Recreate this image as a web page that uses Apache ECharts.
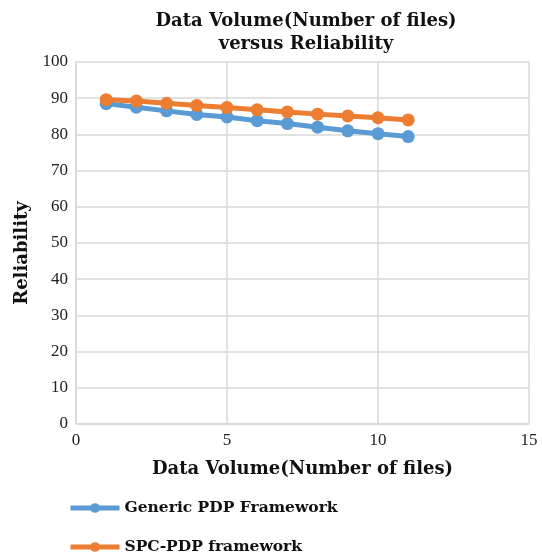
<!DOCTYPE html>
<html><head><meta charset="utf-8">
<script src="https://cdn.jsdelivr.net/npm/echarts@6/dist/echarts.min.js"></script>
<style>html,body{margin:0;padding:0;background:#fff}#c{width:542px;height:559px}</style>
</head><body><div id="c"></div>
<script>
var xValues = [1,2,3,4,5,6,7,8,9,10,11];
var genericPDP = [88.5,87.5,86.5,85.5,84.8,83.8,83.0,82.0,81.0,80.2,79.4];
var spcPDP = [89.6,89.2,88.6,88.0,87.4,86.8,86.2,85.6,85.1,84.6,84.0];
var seriesNames = ['Generic PDP Framework','SPC-PDP framework'];
var colors = ['#5b9bd5','#ed7d31'];
var font = '"Liberation Serif", serif';
var boldFont = '"DejaVu Serif", serif';
function pairs(ys){return xValues.map(function(x,i){return [x,ys[i]];});}
var chart = echarts.init(document.getElementById('c'));
chart.setOption({
  animation:false,
  title:{text:'Data Volume(Number of files)\nversus Reliability',left:301,textAlign:'center',top:5,
    textStyle:{fontFamily:boldFont,fontSize:18,fontWeight:'bold',color:'#111',lineHeight:23}},
  grid:{left:76,right:13,top:62,bottom:135},
  xAxis:{type:'value',min:0,max:15,interval:5,
    name:'Data Volume(Number of files)',nameLocation:'middle',nameGap:36,
    nameTextStyle:{fontFamily:boldFont,fontSize:18,fontWeight:'bold',color:'#111'},
    axisLine:{show:true,lineStyle:{color:'#d9d9d9',width:1.5}},axisTick:{show:false},
    axisLabel:{fontFamily:font,fontSize:17,color:'#222',margin:8},
    splitLine:{show:true,lineStyle:{color:'#d9d9d9',width:1.5}}},
  yAxis:{type:'value',min:0,max:100,interval:10,
    name:'Reliability',nameLocation:'middle',nameGap:45,nameRotate:90,
    nameTextStyle:{fontFamily:boldFont,fontSize:18,fontWeight:'bold',color:'#111',padding:[0,20,0,0]},
    axisLine:{show:true,lineStyle:{color:'#d9d9d9',width:1.5}},axisTick:{show:false},
    axisLabel:{fontFamily:font,fontSize:17,color:'#222',margin:8},
    splitLine:{show:true,lineStyle:{color:'#d9d9d9',width:1.5}}},
  legend:{orient:'vertical',left:68,top:500,padding:0,itemGap:23,itemWidth:49,itemHeight:12,
    lineStyle:{width:5},
    textStyle:{fontFamily:boldFont,fontSize:15.5,fontWeight:'bold',color:'#111'},
    data:seriesNames},
  series:[
    {name:seriesNames[0],type:'line',data:pairs(genericPDP),color:colors[0],
     symbol:'circle',symbolSize:13,lineStyle:{width:5,color:colors[0]},itemStyle:{color:colors[0]}},
    {name:seriesNames[1],type:'line',data:pairs(spcPDP),color:colors[1],
     symbol:'circle',symbolSize:13,lineStyle:{width:5,color:colors[1]},itemStyle:{color:colors[1]}}
  ]
});
</script></body></html>
